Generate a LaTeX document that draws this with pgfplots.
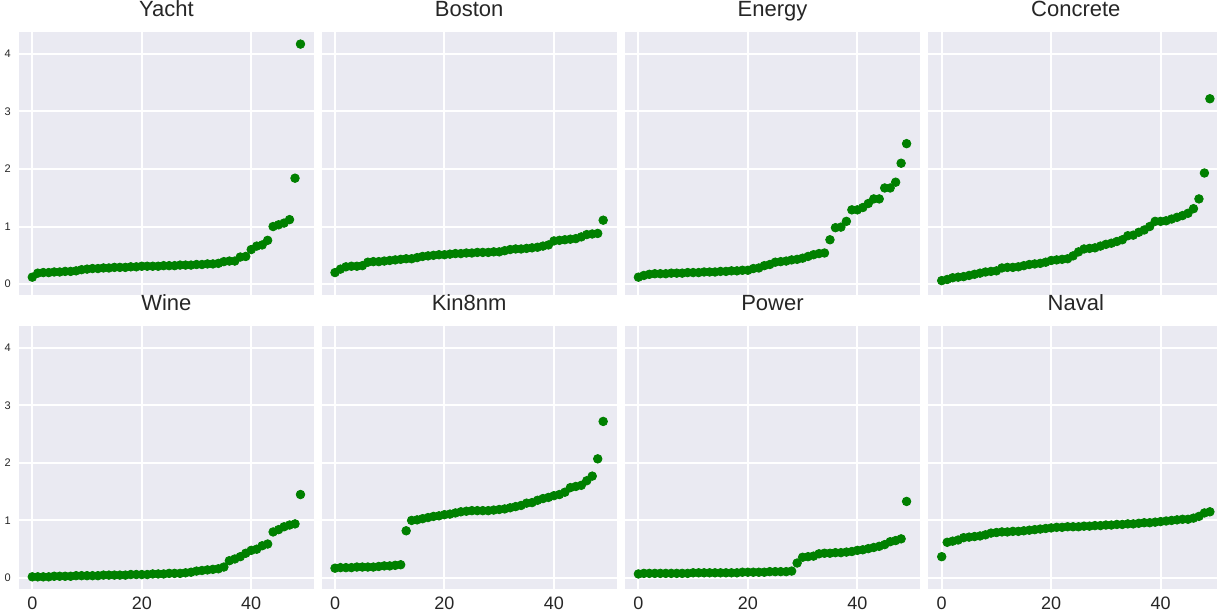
\documentclass[border=0pt]{standalone}
\usepackage{pgfplots}
\usepackage{pgfplotstable}
\pgfplotsset{compat=1.18}
\usepackage{fontspec}
\setmainfont{Liberation Sans}
\definecolor{bgc}{HTML}{EAEAF2}
\definecolor{txt}{HTML}{262626}
\definecolor{dotc}{RGB}{0,128,0}

\pgfplotstableread{
x  yacht boston energy concrete wine kin power naval
0  0.12 0.20 0.12 0.06 0.02 0.17 0.07 0.37
1  0.19 0.26 0.15 0.08 0.02 0.18 0.08 0.62
2  0.20 0.30 0.17 0.11 0.02 0.18 0.08 0.64
3  0.20 0.31 0.18 0.12 0.02 0.18 0.08 0.66
4  0.21 0.31 0.18 0.13 0.03 0.19 0.08 0.70
5  0.21 0.32 0.18 0.15 0.03 0.19 0.08 0.71
6  0.22 0.38 0.19 0.17 0.03 0.19 0.08 0.72
7  0.22 0.39 0.19 0.19 0.03 0.19 0.08 0.73
8  0.23 0.39 0.19 0.21 0.04 0.20 0.08 0.75
9  0.25 0.40 0.20 0.22 0.04 0.21 0.08 0.78
10 0.26 0.41 0.20 0.23 0.04 0.21 0.09 0.79
11 0.27 0.42 0.20 0.28 0.04 0.22 0.09 0.80
12 0.27 0.43 0.21 0.29 0.04 0.23 0.09 0.80
13 0.28 0.44 0.21 0.29 0.05 0.82 0.09 0.81
14 0.28 0.44 0.21 0.30 0.05 1.00 0.09 0.81
15 0.29 0.46 0.22 0.32 0.05 1.01 0.09 0.82
16 0.29 0.48 0.22 0.34 0.05 1.03 0.09 0.83
17 0.29 0.49 0.23 0.35 0.05 1.05 0.09 0.84
18 0.30 0.50 0.23 0.36 0.06 1.07 0.09 0.85
19 0.30 0.51 0.24 0.38 0.06 1.08 0.10 0.86
20 0.31 0.51 0.24 0.41 0.06 1.10 0.10 0.87
21 0.31 0.52 0.27 0.42 0.06 1.11 0.10 0.88
22 0.31 0.53 0.28 0.43 0.07 1.13 0.10 0.88
23 0.31 0.53 0.32 0.44 0.07 1.15 0.10 0.89
24 0.32 0.54 0.34 0.49 0.07 1.16 0.11 0.89
25 0.32 0.54 0.38 0.56 0.08 1.17 0.11 0.89
26 0.32 0.55 0.39 0.61 0.08 1.17 0.11 0.90
27 0.33 0.55 0.40 0.62 0.08 1.17 0.11 0.90
28 0.33 0.55 0.42 0.63 0.09 1.17 0.12 0.91
29 0.33 0.56 0.43 0.66 0.10 1.18 0.26 0.91
30 0.34 0.56 0.45 0.69 0.12 1.19 0.36 0.92
31 0.34 0.58 0.48 0.71 0.13 1.20 0.37 0.92
32 0.35 0.60 0.51 0.74 0.14 1.22 0.38 0.93
33 0.35 0.61 0.53 0.77 0.15 1.24 0.42 0.93
34 0.36 0.61 0.54 0.84 0.16 1.26 0.43 0.94
35 0.39 0.62 0.77 0.85 0.19 1.30 0.43 0.94
36 0.40 0.63 0.98 0.90 0.30 1.31 0.44 0.95
37 0.40 0.64 0.99 0.94 0.33 1.35 0.44 0.96
38 0.47 0.66 1.09 1.00 0.37 1.38 0.45 0.96
39 0.48 0.68 1.29 1.09 0.43 1.40 0.46 0.97
40 0.60 0.75 1.29 1.09 0.48 1.43 0.48 0.98
41 0.66 0.76 1.33 1.10 0.50 1.45 0.49 0.99
42 0.68 0.77 1.40 1.13 0.56 1.49 0.51 1.00
43 0.76 0.78 1.48 1.16 0.59 1.57 0.53 1.01
44 1.00 0.79 1.48 1.19 0.80 1.59 0.55 1.02
45 1.03 0.82 1.67 1.23 0.84 1.61 0.58 1.02
46 1.06 0.86 1.67 1.31 0.89 1.69 0.63 1.04
47 1.12 0.87 1.77 1.48 0.92 1.77 0.65 1.07
48 1.84 0.88 2.10 1.93 0.94 2.07 0.68 1.13
49 4.17 1.11 2.44 3.22 1.45 2.72 1.33 1.15
}\data

\pgfplotsset{
  panel/.style={
    scale only axis, width=147.5pt, height=131.5pt, anchor=north west,
    xmin=-2.45, xmax=51.45, ymin=-0.19, ymax=4.38,
    axis background/.style={fill=bgc},
    axis line style={draw=none},
    major tick length=0pt,
    grid=major, major grid style={white, line width=1pt},
    xtick={0,20,40}, ytick={0,1,2,3,4},
    xticklabels={}, yticklabels={},
    /pgf/number format/assume math mode=true,
    title style={at={(0.5,1)}, anchor=base, yshift=1.9pt, font=\fontsize{11}{13}\selectfont, text=txt},
    tick label style={text=txt},
    xticklabel style={font=\fontsize{9}{11}\selectfont, yshift=-0.3pt},
    yticklabel style={font=\fontsize{5.5}{6.5}\selectfont, xshift=-0.6pt},
    clip=false,
  },
  leftcol/.style={yticklabels={0,1,2,3,4}},
  botrow/.style={xticklabels={0,20,40}},
  dots/.style={only marks, mark=*, mark size=2.15pt, mark options={fill=dotc, draw=dotc}},
}

\begin{document}
\begin{tikzpicture}
\useasboundingbox (0,0) rectangle (608.5pt,-306pt);
% top row
\begin{axis}[panel, leftcol, at={(9.45pt,-16pt)}, title={Yacht}]
\addplot[dots] table[x=x, y=yacht] {\data};
\end{axis}
\begin{axis}[panel, at={(160.8pt,-16pt)}, title={Boston}]
\addplot[dots] table[x=x, y=boston] {\data};
\end{axis}
\begin{axis}[panel, at={(312.5pt,-16pt)}, title={Energy}]
\addplot[dots] table[x=x, y=energy] {\data};
\end{axis}
\begin{axis}[panel, at={(464.15pt,-16pt)}, title={Concrete}]
\addplot[dots] table[x=x, y=concrete] {\data};
\end{axis}
% bottom row
\begin{axis}[panel, leftcol, botrow, at={(9.45pt,-162.95pt)}, title={Wine}]
\addplot[dots] table[x=x, y=wine] {\data};
\end{axis}
\begin{axis}[panel, botrow, at={(160.8pt,-162.95pt)}, title={Kin8nm}]
\addplot[dots] table[x=x, y=kin] {\data};
\end{axis}
\begin{axis}[panel, botrow, at={(312.5pt,-162.95pt)}, title={Power}]
\addplot[dots] table[x=x, y=power] {\data};
\end{axis}
\begin{axis}[panel, botrow, at={(464.15pt,-162.95pt)}, title={Naval}]
\addplot[dots] table[x=x, y=naval] {\data};
\end{axis}
\end{tikzpicture}
\end{document}
